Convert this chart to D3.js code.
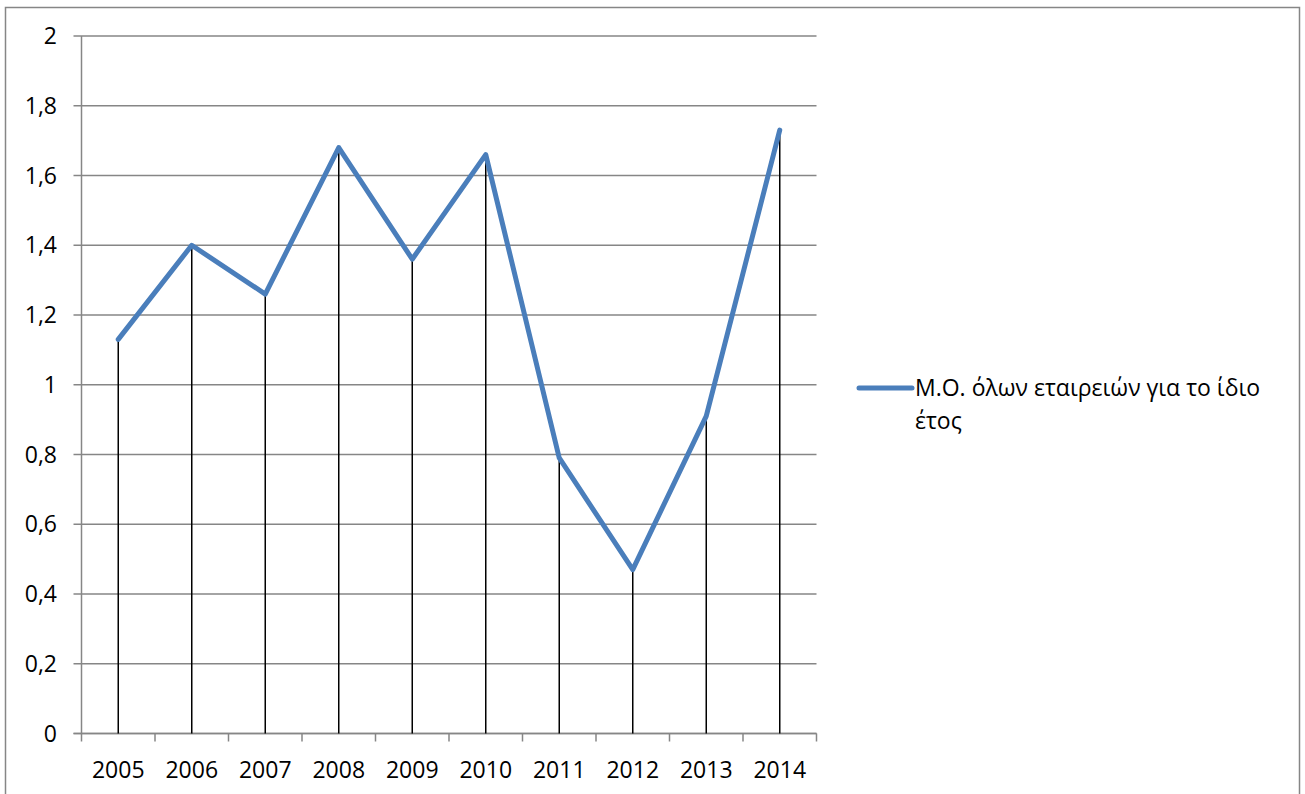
<!DOCTYPE html>
<html>
<head>
<meta charset="utf-8">
<script src="https://cdn.jsdelivr.net/npm/d3@7"></script>
<style>
  html, body { margin: 0; padding: 0; background: #fff; }
  svg { display: block; }
  text { font-family: "Open Sans", "Noto Sans", sans-serif; fill: #000; }
</style>
</head>
<body>
<svg id="chart" width="1305" height="794"></svg>
<script>
// Yearly averages
const years = ["2005", "2006", "2007", "2008", "2009", "2010", "2011", "2012", "2013", "2014"];
const averages = [1.13, 1.40, 1.26, 1.68, 1.36, 1.66, 0.79, 0.47, 0.91, 1.73];
const yTicks = [0, 0.2, 0.4, 0.6, 0.8, 1, 1.2, 1.4, 1.6, 1.8, 2];
const seriesName = ["Μ.Ο. όλων εταιρειών για το ίδιο", "έτος"];

const svg = d3.select("#chart");
const plot = { left: 81.5, right: 816.5, top: 36, bottom: 733.5 };
const gridColor = "#868686";
const lineColor = "#4a7ebb";
const fontSize = 23;

// outer frame
svg.append("rect")
  .attr("x", 5.5).attr("y", 7.5)
  .attr("width", 1294).attr("height", 800)
  .attr("fill", "#fff").attr("stroke", gridColor).attr("stroke-width", 1.5);

const x = d3.scaleBand().domain(years).range([plot.left, plot.right]);
const y = d3.scaleLinear().domain([0, 2]).range([plot.bottom, plot.top]);

// horizontal gridlines with tick marks to the left
svg.append("g")
  .selectAll("line")
  .data(yTicks)
  .join("line")
  .attr("x1", plot.left - 8).attr("x2", plot.right)
  .attr("y1", d => y(d)).attr("y2", d => y(d))
  .attr("stroke", gridColor).attr("stroke-width", 1.5);

// value axis labels
svg.append("g")
  .selectAll("text")
  .data(yTicks)
  .join("text")
  .attr("x", 57).attr("y", d => y(d))
  .attr("dy", "0.35em")
  .attr("text-anchor", "end")
  .attr("font-size", fontSize)
  .text(d => d3.format("~g")(d).replace(".", ","));

// vertical axis line
svg.append("line")
  .attr("x1", plot.left).attr("x2", plot.left)
  .attr("y1", plot.top).attr("y2", plot.bottom)
  .attr("stroke", gridColor).attr("stroke-width", 1.5);

// category axis with tick marks between bands
const xAxis = svg.append("g");
xAxis.append("line")
  .attr("x1", plot.left - 8).attr("x2", plot.right)
  .attr("y1", plot.bottom).attr("y2", plot.bottom)
  .attr("stroke", gridColor).attr("stroke-width", 1.5);
const bounds = years.map(d => x(d)).concat([plot.right]);
xAxis.selectAll("line.tick")
  .data(bounds)
  .join("line")
  .attr("class", "tick")
  .attr("x1", d => d).attr("x2", d => d)
  .attr("y1", plot.bottom).attr("y2", plot.bottom + 8)
  .attr("stroke", gridColor).attr("stroke-width", 1.5);
xAxis.selectAll("text")
  .data(years)
  .join("text")
  .attr("x", d => x(d) + x.bandwidth() / 2)
  .attr("y", 770)
  .attr("dy", "0.35em")
  .attr("text-anchor", "middle")
  .attr("font-size", fontSize)
  .text(d => d);

const cx = d => x(d) + x.bandwidth() / 2;

// drop lines from each point to the category axis
svg.append("g")
  .selectAll("line")
  .data(years)
  .join("line")
  .attr("x1", d => cx(d)).attr("x2", d => cx(d))
  .attr("y1", (d, i) => y(averages[i])).attr("y2", plot.bottom)
  .attr("stroke", "#000").attr("stroke-width", 1.5);

// series line
const line = d3.line()
  .x((d, i) => cx(years[i]))
  .y(d => y(d));
svg.append("path")
  .datum(averages)
  .attr("d", line)
  .attr("fill", "none")
  .attr("stroke", lineColor)
  .attr("stroke-width", 5)
  .attr("stroke-linejoin", "round")
  .attr("stroke-linecap", "round");

// legend
const legend = svg.append("g");
legend.append("line")
  .attr("x1", 859).attr("x2", 912)
  .attr("y1", 388).attr("y2", 388)
  .attr("stroke", lineColor).attr("stroke-width", 5)
  .attr("stroke-linecap", "round");
legend.selectAll("text")
  .data(seriesName)
  .join("text")
  .attr("x", 915)
  .attr("y", (d, i) => 388 + i * 33)
  .attr("dy", "0.35em")
  .attr("font-size", fontSize)
  .text(d => d);
</script>
</body>
</html>
